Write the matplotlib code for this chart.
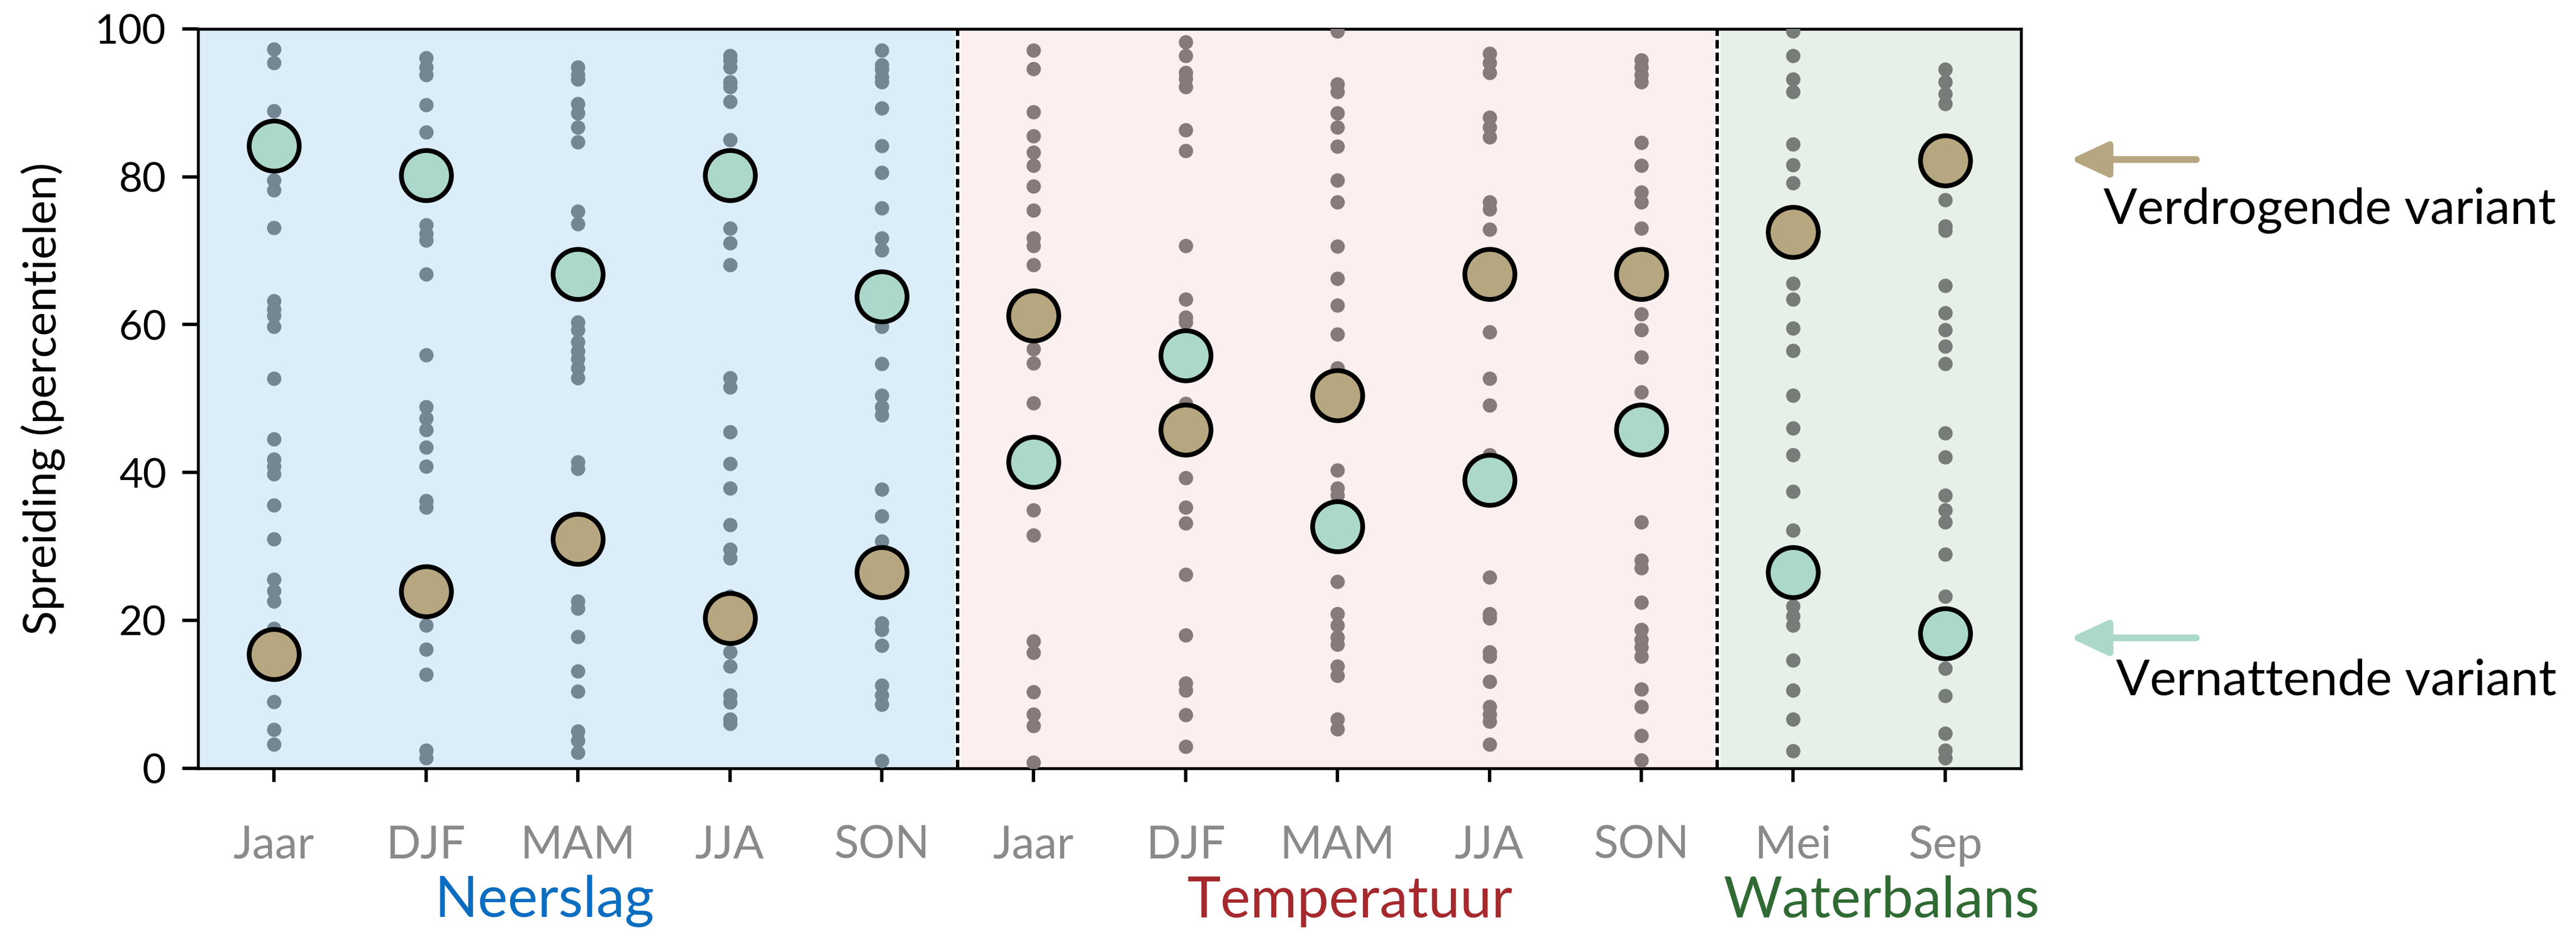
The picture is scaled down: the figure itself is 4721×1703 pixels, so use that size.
import matplotlib
matplotlib.use("Agg")
import matplotlib.pyplot as plt
from matplotlib import transforms
from matplotlib.patches import FancyArrowPatch

plt.rcParams['font.family'] = ['Lato', 'DejaVu Sans']

# ---------------- data ----------------
categories = ["Jaar", "DJF", "MAM", "JJA", "SON",
              "Jaar", "DJF", "MAM", "JJA", "SON",
              "Mei", "Sep"]
groups = ["Neerslag", "Temperatuur", "Waterbalans"]

# small grey dots (ensemble members, percentiles)
neerslag_jaar = [97.3, 95.4, 88.9, 79.5, 78.2, 73.1, 63.2, 62.1, 61.2, 59.7, 52.7, 44.5, 41.8,
                 40.8, 39.8, 35.6, 31.0, 25.5, 24.0, 22.6, 18.9, 9.0, 5.2, 3.2]
neerslag_djf = [96.1, 94.8, 93.8, 89.7, 86.0, 73.5, 72.3, 71.4, 66.8, 55.9, 48.9, 47.3, 45.8,
                43.4, 40.8, 36.2, 35.3, 19.3, 16.1, 12.7, 2.4, 1.4]
neerslag_mam = [94.8, 93.8, 93.2, 89.9, 88.6, 86.7, 84.7, 75.3, 73.6, 60.3, 59.3, 57.7, 56.4,
                55.4, 54.1, 52.8, 41.4, 40.5, 22.6, 21.6, 17.8, 13.1, 10.4, 5.0, 3.7, 2.1]
neerslag_jja = [96.4, 95.8, 94.8, 92.8, 92.2, 90.2, 85.0, 73.0, 71.0, 68.1, 52.8, 51.5, 45.5,
                41.2, 37.9, 32.9, 29.6, 28.4, 23.2, 15.7, 13.8, 9.9, 8.9, 6.6, 6.0]
neerslag_son = [97.1, 95.1, 94.5, 93.5, 92.8, 89.3, 84.2, 80.6, 75.8, 71.7, 70.1, 59.7, 54.7,
                50.4, 48.9, 47.8, 37.7, 34.1, 30.7, 19.6, 18.7, 16.6, 11.2, 9.9, 8.6, 1.0]
temp_jaar = [97.1, 94.6, 88.8, 85.5, 83.3, 81.5, 78.7, 75.5, 71.7, 70.7, 68.1, 56.7, 54.8,
             49.4, 34.9, 31.5, 17.2, 15.6, 10.3, 7.3, 5.7, 0.8]
temp_djf = [98.2, 96.4, 94.1, 93.3, 92.2, 86.3, 83.5, 70.7, 63.4, 61.0, 60.3, 49.3, 39.3,
            35.3, 33.1, 26.2, 18.0, 11.5, 10.5, 7.2, 2.9]
temp_mam = [99.7, 92.5, 91.5, 88.6, 86.7, 84.1, 79.5, 76.6, 70.6, 66.2, 62.6, 58.7, 54.1,
            40.3, 37.9, 36.9, 25.2, 20.9, 19.3, 17.7, 16.7, 13.8, 12.5, 6.6, 5.3]
temp_jja = [96.7, 95.4, 94.1, 88.0, 86.7, 85.4, 76.6, 75.6, 72.9, 59.0, 52.7, 49.1, 42.4,
            25.8, 20.9, 20.3, 15.7, 15.1, 11.7, 8.3, 7.3, 6.3, 3.2]
temp_son = [95.8, 94.8, 93.8, 92.8, 84.6, 81.5, 77.9, 76.6, 73.0, 61.4, 59.3, 55.6, 50.9,
            33.3, 28.1, 27.1, 22.4, 18.7, 17.4, 16.4, 15.1, 10.7, 8.3, 4.4, 1.1]
water_mei = [99.7, 96.4, 93.2, 91.5, 84.4, 81.6, 79.2, 65.6, 63.4, 59.5, 56.5, 50.4, 46.0,
             42.4, 37.4, 32.2, 21.9, 20.6, 19.3, 14.6, 10.5, 6.6, 2.3]
water_sep = [94.5, 92.8, 91.2, 89.9, 76.9, 73.3, 72.7, 65.3, 61.6, 59.3, 57.1, 54.7, 45.3,
             42.1, 36.9, 34.9, 33.3, 28.9, 23.2, 13.5, 9.8, 4.7, 2.4, 1.4]

members = [neerslag_jaar, neerslag_djf, neerslag_mam, neerslag_jja, neerslag_son,
           temp_jaar, temp_djf, temp_mam, temp_jja, temp_son,
           water_mei, water_sep]

# big circles: selected variants
vernattend = [84.2, 80.2, 66.8, 80.2, 63.8, 41.4, 55.8, 32.7, 39.0, 45.8, 26.5, 18.2]
verdrogend = [15.4, 23.9, 31.0, 20.3, 26.5, 61.2, 45.8, 50.4, 66.8, 66.8, 72.5, 82.2]

# ---------------- style ----------------
bg_colors = ["#DBEDF8", "#FCEFEF", "#E7EFE9"]
dot_colors = ["#738793", "#877A7A", "#767D78"]
group_label_colors = ["#0B6DC0", "#A5292D", "#2F6A33"]
green_c = "#ABD8CA"
brown_c = "#B6A780"

fig = plt.figure(figsize=(4721 / 300, 1703 / 300), dpi=300)
ax = fig.add_axes([0.0769, 0.1741, 0.7077, 0.7948])

group_of = [0] * 5 + [1] * 5 + [2] * 2
spans = [(-0.5, 4.48), (4.52, 9.48), (9.52, 11.5)]
for (a, b), c in zip(spans, bg_colors):
    ax.axvspan(a, b, color=c, lw=0, zorder=0)
for xv in (4.5, 9.5):
    ax.axvline(xv, color="black", lw=1.5, ls=(0, (2.5, 1.2)), zorder=1)

for i, vals in enumerate(members):
    ax.plot([i] * len(vals), vals, "o", ms=6.3, color=dot_colors[group_of[i]],
            mec="none", zorder=3)

xs = list(range(len(categories)))
ax.plot(xs, vernattend, "o", ls="none", ms=22, mfc=green_c, mec="black", mew=2.1, zorder=5)
ax.plot(xs, verdrogend, "o", ls="none", ms=22, mfc=brown_c, mec="black", mew=2.1, zorder=5)

ax.set_xlim(-0.5, 11.5)
ax.set_ylim(0, 100)
ax.set_xticks(xs)
ax.set_xticklabels(categories)
ax.set_yticks([0, 20, 40, 60, 80, 100])
ax.tick_params(axis="x", length=6, width=1.5, pad=19, labelsize=20, labelcolor="#8a8a8a")
ax.tick_params(axis="y", length=7, width=1.5, pad=7, labelsize=18, labelcolor="black")
for s in ax.spines.values():
    s.set_linewidth(1.3)
ax.set_ylabel("Spreiding (percentielen)", fontsize=20, labelpad=13)

# group labels below tick labels
trans = transforms.blended_transform_factory(ax.transData, fig.transFigure)
group_x = [1.78, 7.08, 10.58]
for gx, name, col in zip(group_x, groups, group_label_colors):
    ax.text(gx, 0.031, name, transform=trans, ha="center", va="center",
            fontsize=25, color=col)

# legend arrows on the right
for y, col in ((0.8285, brown_c), (0.3141, green_c)):
    arr = FancyArrowPatch((0.8526, y), (0.8036, y), transform=fig.transFigure,
                          arrowstyle="-|>,head_length=14,head_width=6.5",
                          color=col, lw=3, shrinkA=0, shrinkB=0, mutation_scale=1)
    fig.add_artist(arr)
fig.text(0.8165, 0.759, "Verdrogende variant", fontsize=22, ha="left", va="baseline")
fig.text(0.8215, 0.253, "Vernattende variant", fontsize=22, ha="left", va="baseline")

fig.savefig("out.png", dpi=300)
